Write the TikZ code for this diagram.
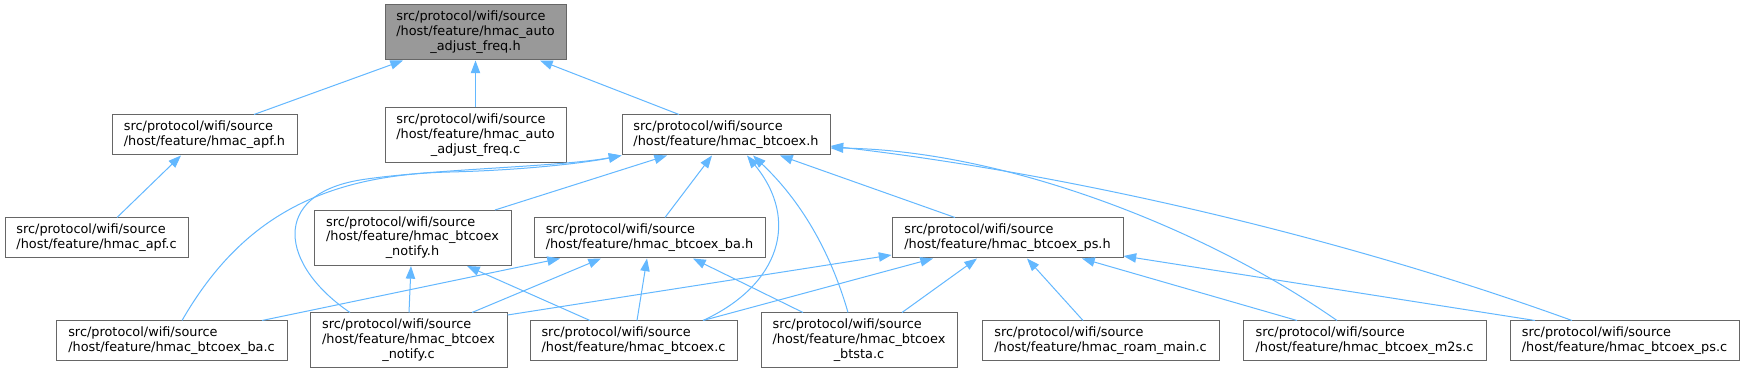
\documentclass[tikz,border=0pt]{standalone}
\usepackage{fontspec}
\setmainfont{DejaVu Sans}
\usetikzlibrary{arrows.meta}
\definecolor{edgeblue}{HTML}{63B8FF}
\definecolor{boxline}{HTML}{666666}
\definecolor{rootfill}{HTML}{999999}
\newcommand\twoL[2]{\begin{tabular}{@{}l@{}}#1\\#2\end{tabular}}
\newcommand\threeL[3]{\begin{tabular}{@{}l@{}}#1\\#2\\\multicolumn{1}{@{}c@{}}{#3}\end{tabular}}
\begin{document}
\begin{tikzpicture}[x=0.75pt,y=-0.75pt,
  filebox/.style 2 args={draw=boxline, fill=white, line width=0.75pt, inner sep=0pt,
    minimum width=#1*0.75pt, minimum height=#2*0.75pt, font=\fontsize{9.65}{11}\selectfont},
  rootbox/.style={fill=rootfill},
  dep/.style={draw=edgeblue, line width=0.75pt, -{Triangle[length=9.5pt,width=7pt]}}]
\fill[white] (0,0) rectangle (1745,373);
\useasboundingbox (0,0) rectangle (1745,373);
% nodes
\node[filebox={181}{55}, rootbox] (root) at (475.5,32.5) {\threeL{src/protocol/wifi/source}{/host/feature/hmac\_auto}{\_adjust\_freq.h}};
\node[filebox={181}{55}] (autoc) at (475.5,135.5) {\threeL{src/protocol/wifi/source}{/host/feature/hmac\_auto}{\_adjust\_freq.c}};
\node[filebox={185}{40}] (apfh) at (204.5,135) {\twoL{src/protocol/wifi/source}{/host/feature/hmac\_apf.h}};
\node[filebox={208}{40}] (btcoexh) at (726,135) {\twoL{src/protocol/wifi/source}{/host/feature/hmac\_btcoex.h}};
\node[filebox={183}{40}] (apfc) at (96.5,238) {\twoL{src/protocol/wifi/source}{/host/feature/hmac\_apf.c}};
\node[filebox={197}{55}] (notifyh) at (412.5,238) {\threeL{src/protocol/wifi/source}{/host/feature/hmac\_btcoex}{\_notify.h}};
\node[filebox={231}{40}] (bah) at (649.5,238) {\twoL{src/protocol/wifi/source}{/host/feature/hmac\_btcoex\_ba.h}};
\node[filebox={231}{40}] (psh) at (1007.5,238) {\twoL{src/protocol/wifi/source}{/host/feature/hmac\_btcoex\_ps.h}};
\node[filebox={231}{40}] (bac) at (171.5,341) {\twoL{src/protocol/wifi/source}{/host/feature/hmac\_btcoex\_ba.c}};
\node[filebox={197}{55}] (notifyc) at (408.5,340.5) {\threeL{src/protocol/wifi/source}{/host/feature/hmac\_btcoex}{\_notify.c}};
\node[filebox={207}{40}] (btcoexc) at (633.5,341) {\twoL{src/protocol/wifi/source}{/host/feature/hmac\_btcoex.c}};
\node[filebox={196}{55}] (btstac) at (859,340.5) {\threeL{src/protocol/wifi/source}{/host/feature/hmac\_btcoex}{\_btsta.c}};
\node[filebox={237}{40}] (roamc) at (1100.5,341) {\twoL{src/protocol/wifi/source}{/host/feature/hmac\_roam\_main.c}};
\node[filebox={243}{40}] (m2sc) at (1364.5,341) {\twoL{src/protocol/wifi/source}{/host/feature/hmac\_btcoex\_m2s.c}};
\node[filebox={229}{40}] (psc) at (1624.5,341) {\twoL{src/protocol/wifi/source}{/host/feature/hmac\_btcoex\_ps.c}};
% edges to root
\draw[dep] (apfh.north -| 254,0) -- (root.south -| 403,0);
\draw[dep] (autoc.north) -- (root.south);
\draw[dep] (btcoexh.north -| 679,0) -- (root.south -| 540,0);
% apf
\draw[dep] (apfc.north -| 117,0) -- (apfh.south -| 181,0);
% to btcoex.h
\draw[dep] (bac.north -| 182,0) .. controls (240,220) and (320,175) .. (450,172) .. controls (530,170) and (590,162) .. (btcoexh.south west);
\draw[dep] (notifyc.north -| 350,0) .. controls (280,265) and (270,195) .. (360,180) .. controls (430,169) and (560,167) .. (btcoexh.south west);
\draw[dep] (notifyh.north -| 495,0) -- (btcoexh.south -| 667,0);
\draw[dep] (bah.north -| 665,0) -- (btcoexh.south -| 712,0);
\draw[dep] (btcoexc.north -| 703,0) .. controls (780,285) and (800,220) .. (btcoexh.south -| 747,0);
\draw[dep] (btstac.north -| 848,0) .. controls (830,250) and (800,200) .. (btcoexh.south -| 753,0);
\draw[dep] (psh.north -| 955,0) -- (btcoexh.south -| 780,0);
\draw[dep] (m2sc.north -| 1337,0) .. controls (1200,225) and (1000,150) .. (btcoexh.east |- 0,148);
\draw[dep] (psc.north -| 1572,0) .. controls (1350,240) and (1080,175) .. (btcoexh.east |- 0,146);
% to notify.h
\draw[dep] (notifyc.north -| 409,0) -- (notifyh.south -| 411,0);
\draw[dep] (btcoexc.north -| 590,0) -- (notifyh.south -| 467,0);
% to ba.h
\draw[dep] (bac.north -| 262,0) -- (bah.south -| 560,0);
\draw[dep] (notifyc.north -| 472,0) -- (bah.south -| 601,0);
\draw[dep] (btcoexc.north -| 637,0) -- (bah.south -| 647,0);
\draw[dep] (btstac.north -| 803,0) -- (bah.south -| 693,0);
% to ps.h
\draw[dep] (notifyc.east |- 0,315) -- (psh.west |- 0,255);
\draw[dep] (btcoexc.north -| 703,0) -- (psh.south -| 933,0);
\draw[dep] (btstac.north -| 902,0) -- (psh.south -| 977,0);
\draw[dep] (roamc.north -| 1083,0) -- (psh.south -| 1027,0);
\draw[dep] (m2sc.north -| 1297,0) -- (psh.south -| 1082,0);
\draw[dep] (psc.north -| 1535,0) -- (psh.east |- 0,256);
\end{tikzpicture}
\end{document}
